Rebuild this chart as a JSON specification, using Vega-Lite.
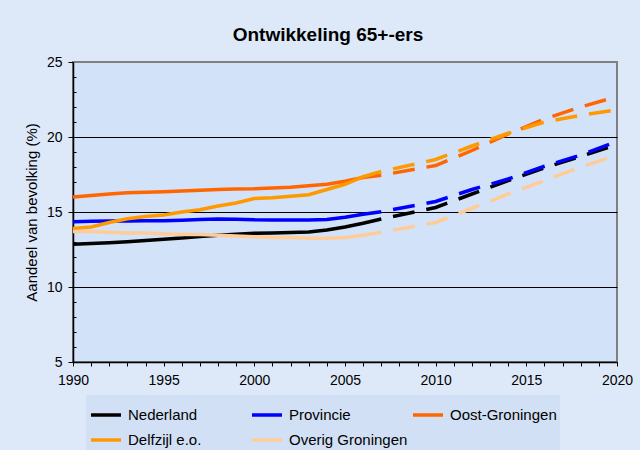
{
  "$schema": "https://vega.github.io/schema/vega-lite/v6.json",
  "width": 544,
  "height": 300,
  "autosize": {"type": "none"},
  "padding": {"left": 73, "top": 62, "right": 23, "bottom": 88},
  "background": "#dde9f8",
  "title": {
    "text": "Ontwikkeling 65+-ers",
    "font": "Liberation Sans",
    "fontSize": 19,
    "fontWeight": "bold",
    "color": "#000000",
    "anchor": "middle",
    "dx": -17,
    "offset": 10
  },
  "config": {
    "font": "Liberation Sans",
    "view": {"fill": "#d2e2f8", "stroke": "#808080", "strokeWidth": 2},
    "legend": {
      "orient": "none",
      "legendX": 13,
      "legendY": 333,
      "direction": "horizontal",
      "columns": 3,
      "gridAlign": "all",
      "symbolType": "stroke",
      "symbolSize": 900,
      "symbolStrokeWidth": 3.5,
      "labelFontSize": 15,
      "labelColor": "#000000",
      "labelOffset": 5,
      "columnPadding": -2,
      "rowPadding": -5,
      "padding": 3,
      "fillColor": "#d2e0f6"
    }
  },
  "data": {
    "values": [
      {"series": "Nederland", "phase": "obs", "year": 1990, "value": 12.85},
      {"series": "Nederland", "phase": "obs", "year": 1991, "value": 12.9},
      {"series": "Nederland", "phase": "obs", "year": 1992, "value": 12.95},
      {"series": "Nederland", "phase": "obs", "year": 1993, "value": 13.02},
      {"series": "Nederland", "phase": "obs", "year": 1994, "value": 13.1},
      {"series": "Nederland", "phase": "obs", "year": 1995, "value": 13.18},
      {"series": "Nederland", "phase": "obs", "year": 1996, "value": 13.27},
      {"series": "Nederland", "phase": "obs", "year": 1997, "value": 13.37},
      {"series": "Nederland", "phase": "obs", "year": 1998, "value": 13.45},
      {"series": "Nederland", "phase": "obs", "year": 1999, "value": 13.52},
      {"series": "Nederland", "phase": "obs", "year": 2000, "value": 13.58},
      {"series": "Nederland", "phase": "obs", "year": 2001, "value": 13.6},
      {"series": "Nederland", "phase": "obs", "year": 2002, "value": 13.63},
      {"series": "Nederland", "phase": "obs", "year": 2003, "value": 13.67},
      {"series": "Nederland", "phase": "obs", "year": 2004, "value": 13.8},
      {"series": "Nederland", "phase": "obs", "year": 2005, "value": 14.0},
      {"series": "Nederland", "phase": "obs", "year": 2006, "value": 14.25},
      {"series": "Nederland", "phase": "obs", "year": 2007, "value": 14.53},
      {"series": "Nederland", "phase": "proj", "year": 2007, "value": 14.53},
      {"series": "Nederland", "phase": "proj", "year": 2010, "value": 15.3},
      {"series": "Nederland", "phase": "proj", "year": 2012, "value": 16.2},
      {"series": "Nederland", "phase": "proj", "year": 2014, "value": 17.1},
      {"series": "Nederland", "phase": "proj", "year": 2016, "value": 17.95},
      {"series": "Nederland", "phase": "proj", "year": 2018, "value": 18.7},
      {"series": "Nederland", "phase": "proj", "year": 2020, "value": 19.5},

      {"series": "Provincie", "phase": "obs", "year": 1990, "value": 14.35},
      {"series": "Provincie", "phase": "obs", "year": 1991, "value": 14.38},
      {"series": "Provincie", "phase": "obs", "year": 1992, "value": 14.4},
      {"series": "Provincie", "phase": "obs", "year": 1993, "value": 14.4},
      {"series": "Provincie", "phase": "obs", "year": 1994, "value": 14.42},
      {"series": "Provincie", "phase": "obs", "year": 1995, "value": 14.42},
      {"series": "Provincie", "phase": "obs", "year": 1996, "value": 14.45},
      {"series": "Provincie", "phase": "obs", "year": 1997, "value": 14.5},
      {"series": "Provincie", "phase": "obs", "year": 1998, "value": 14.53},
      {"series": "Provincie", "phase": "obs", "year": 1999, "value": 14.52},
      {"series": "Provincie", "phase": "obs", "year": 2000, "value": 14.48},
      {"series": "Provincie", "phase": "obs", "year": 2001, "value": 14.47},
      {"series": "Provincie", "phase": "obs", "year": 2002, "value": 14.47},
      {"series": "Provincie", "phase": "obs", "year": 2003, "value": 14.47},
      {"series": "Provincie", "phase": "obs", "year": 2004, "value": 14.5},
      {"series": "Provincie", "phase": "obs", "year": 2005, "value": 14.65},
      {"series": "Provincie", "phase": "obs", "year": 2006, "value": 14.85},
      {"series": "Provincie", "phase": "obs", "year": 2007, "value": 15.02},
      {"series": "Provincie", "phase": "proj", "year": 2007, "value": 15.02},
      {"series": "Provincie", "phase": "proj", "year": 2010, "value": 15.7},
      {"series": "Provincie", "phase": "proj", "year": 2012, "value": 16.5},
      {"series": "Provincie", "phase": "proj", "year": 2014, "value": 17.2},
      {"series": "Provincie", "phase": "proj", "year": 2016, "value": 18.05},
      {"series": "Provincie", "phase": "proj", "year": 2018, "value": 18.8},
      {"series": "Provincie", "phase": "proj", "year": 2020, "value": 19.7},

      {"series": "Oost-Groningen", "phase": "obs", "year": 1990, "value": 16.0},
      {"series": "Oost-Groningen", "phase": "obs", "year": 1991, "value": 16.1},
      {"series": "Oost-Groningen", "phase": "obs", "year": 1992, "value": 16.2},
      {"series": "Oost-Groningen", "phase": "obs", "year": 1993, "value": 16.28},
      {"series": "Oost-Groningen", "phase": "obs", "year": 1994, "value": 16.32},
      {"series": "Oost-Groningen", "phase": "obs", "year": 1995, "value": 16.35},
      {"series": "Oost-Groningen", "phase": "obs", "year": 1996, "value": 16.4},
      {"series": "Oost-Groningen", "phase": "obs", "year": 1997, "value": 16.45},
      {"series": "Oost-Groningen", "phase": "obs", "year": 1998, "value": 16.5},
      {"series": "Oost-Groningen", "phase": "obs", "year": 1999, "value": 16.53},
      {"series": "Oost-Groningen", "phase": "obs", "year": 2000, "value": 16.55},
      {"series": "Oost-Groningen", "phase": "obs", "year": 2001, "value": 16.6},
      {"series": "Oost-Groningen", "phase": "obs", "year": 2002, "value": 16.65},
      {"series": "Oost-Groningen", "phase": "obs", "year": 2003, "value": 16.75},
      {"series": "Oost-Groningen", "phase": "obs", "year": 2004, "value": 16.85},
      {"series": "Oost-Groningen", "phase": "obs", "year": 2005, "value": 17.05},
      {"series": "Oost-Groningen", "phase": "obs", "year": 2006, "value": 17.3},
      {"series": "Oost-Groningen", "phase": "obs", "year": 2007, "value": 17.45},
      {"series": "Oost-Groningen", "phase": "proj", "year": 2007, "value": 17.45},
      {"series": "Oost-Groningen", "phase": "proj", "year": 2010, "value": 18.1},
      {"series": "Oost-Groningen", "phase": "proj", "year": 2012, "value": 19.1},
      {"series": "Oost-Groningen", "phase": "proj", "year": 2014, "value": 20.2},
      {"series": "Oost-Groningen", "phase": "proj", "year": 2016, "value": 21.2},
      {"series": "Oost-Groningen", "phase": "proj", "year": 2018, "value": 22.0},
      {"series": "Oost-Groningen", "phase": "proj", "year": 2020, "value": 22.7},

      {"series": "Delfzijl e.o.", "phase": "obs", "year": 1990, "value": 13.9},
      {"series": "Delfzijl e.o.", "phase": "obs", "year": 1991, "value": 14.0},
      {"series": "Delfzijl e.o.", "phase": "obs", "year": 1992, "value": 14.3},
      {"series": "Delfzijl e.o.", "phase": "obs", "year": 1993, "value": 14.55},
      {"series": "Delfzijl e.o.", "phase": "obs", "year": 1994, "value": 14.7},
      {"series": "Delfzijl e.o.", "phase": "obs", "year": 1995, "value": 14.8},
      {"series": "Delfzijl e.o.", "phase": "obs", "year": 1996, "value": 15.0},
      {"series": "Delfzijl e.o.", "phase": "obs", "year": 1997, "value": 15.15},
      {"series": "Delfzijl e.o.", "phase": "obs", "year": 1998, "value": 15.4},
      {"series": "Delfzijl e.o.", "phase": "obs", "year": 1999, "value": 15.6},
      {"series": "Delfzijl e.o.", "phase": "obs", "year": 2000, "value": 15.9},
      {"series": "Delfzijl e.o.", "phase": "obs", "year": 2001, "value": 15.95},
      {"series": "Delfzijl e.o.", "phase": "obs", "year": 2002, "value": 16.05},
      {"series": "Delfzijl e.o.", "phase": "obs", "year": 2003, "value": 16.15},
      {"series": "Delfzijl e.o.", "phase": "obs", "year": 2004, "value": 16.5},
      {"series": "Delfzijl e.o.", "phase": "obs", "year": 2005, "value": 16.85},
      {"series": "Delfzijl e.o.", "phase": "obs", "year": 2006, "value": 17.35},
      {"series": "Delfzijl e.o.", "phase": "obs", "year": 2007, "value": 17.7},
      {"series": "Delfzijl e.o.", "phase": "proj", "year": 2007, "value": 17.7},
      {"series": "Delfzijl e.o.", "phase": "proj", "year": 2010, "value": 18.5},
      {"series": "Delfzijl e.o.", "phase": "proj", "year": 2012, "value": 19.4},
      {"series": "Delfzijl e.o.", "phase": "proj", "year": 2014, "value": 20.25},
      {"series": "Delfzijl e.o.", "phase": "proj", "year": 2016, "value": 21.0},
      {"series": "Delfzijl e.o.", "phase": "proj", "year": 2018, "value": 21.45},
      {"series": "Delfzijl e.o.", "phase": "proj", "year": 2020, "value": 21.82},

      {"series": "Overig Groningen", "phase": "obs", "year": 1990, "value": 13.7},
      {"series": "Overig Groningen", "phase": "obs", "year": 1991, "value": 13.7},
      {"series": "Overig Groningen", "phase": "obs", "year": 1992, "value": 13.65},
      {"series": "Overig Groningen", "phase": "obs", "year": 1993, "value": 13.6},
      {"series": "Overig Groningen", "phase": "obs", "year": 1994, "value": 13.6},
      {"series": "Overig Groningen", "phase": "obs", "year": 1995, "value": 13.55},
      {"series": "Overig Groningen", "phase": "obs", "year": 1996, "value": 13.5},
      {"series": "Overig Groningen", "phase": "obs", "year": 1997, "value": 13.5},
      {"series": "Overig Groningen", "phase": "obs", "year": 1998, "value": 13.45},
      {"series": "Overig Groningen", "phase": "obs", "year": 1999, "value": 13.4},
      {"series": "Overig Groningen", "phase": "obs", "year": 2000, "value": 13.35},
      {"series": "Overig Groningen", "phase": "obs", "year": 2001, "value": 13.3},
      {"series": "Overig Groningen", "phase": "obs", "year": 2002, "value": 13.3},
      {"series": "Overig Groningen", "phase": "obs", "year": 2003, "value": 13.25},
      {"series": "Overig Groningen", "phase": "obs", "year": 2004, "value": 13.25},
      {"series": "Overig Groningen", "phase": "obs", "year": 2005, "value": 13.3},
      {"series": "Overig Groningen", "phase": "obs", "year": 2006, "value": 13.45},
      {"series": "Overig Groningen", "phase": "obs", "year": 2007, "value": 13.65},
      {"series": "Overig Groningen", "phase": "proj", "year": 2007, "value": 13.65},
      {"series": "Overig Groningen", "phase": "proj", "year": 2010, "value": 14.3},
      {"series": "Overig Groningen", "phase": "proj", "year": 2012, "value": 15.25},
      {"series": "Overig Groningen", "phase": "proj", "year": 2014, "value": 16.2},
      {"series": "Overig Groningen", "phase": "proj", "year": 2016, "value": 17.1},
      {"series": "Overig Groningen", "phase": "proj", "year": 2018, "value": 18.0},
      {"series": "Overig Groningen", "phase": "proj", "year": 2020, "value": 18.8}
    ]
  },
  "encoding": {
    "x": {
      "field": "year",
      "type": "quantitative",
      "scale": {"domain": [1990, 2020], "nice": false, "zero": false},
      "axis": {
        "title": null,
        "values": [1990,1991,1992,1993,1994,1995,1996,1997,1998,1999,2000,2001,2002,2003,2004,2005,2006,2007,2008,2009,2010,2011,2012,2013,2014,2015,2016,2017,2018,2019,2020],
        "labelExpr": "datum.value % 5 === 0 ? datum.value : ''",
        "labelFlush": false,
        "labelOverlap": false,
        "labelFontSize": 14,
        "labelColor": "#000000",
        "labelPadding": 7,
        "tickSize": 4,
        "tickColor": "#000000",
        "domainColor": "#000000",
        "domainWidth": 1.5,
        "grid": false
      }
    },
    "y": {
      "field": "value",
      "type": "quantitative",
      "scale": {"domain": [5, 25], "nice": false, "zero": false},
      "axis": {
        "title": "Aandeel van bevolking (%)",
        "titleFontSize": 15,
        "titleFontWeight": "normal",
        "titleColor": "#000000",
        "titlePadding": 7,
        "values": [5,6,7,8,9,10,11,12,13,14,15,16,17,18,19,20,21,22,23,24,25],
        "labelExpr": "datum.value % 5 === 0 ? datum.value : ''",
        "labelOverlap": false,
        "labelFontSize": 14,
        "labelColor": "#000000",
        "labelPadding": 6,
        "tickColor": "#000000",
        "tickSize": {"condition": {"test": "datum.value % 5 === 0", "value": 5}, "value": -3},
        "domainColor": "#000000",
        "domainWidth": 1.5,
        "grid": true,
        "gridColor": "#000000",
        "gridWidth": 1,
        "gridOpacity": {"condition": {"test": "datum.value % 5 === 0 && datum.value > 5 && datum.value < 25", "value": 1}, "value": 0}
      }
    },
    "color": {
      "field": "series",
      "type": "nominal",
      "scale": {
        "domain": ["Nederland", "Provincie", "Oost-Groningen", "Delfzijl e.o.", "Overig Groningen"],
        "range": ["#000000", "#0000ff", "#ff6600", "#ff9900", "#ffcc99"]
      },
      "legend": {"title": null}
    }
  },
  "layer": [
    {
      "transform": [{"filter": "datum.phase === 'obs'"}],
      "mark": {"type": "line", "strokeWidth": 3.5}
    },
    {
      "transform": [{"filter": "datum.phase === 'proj'"}],
      "mark": {"type": "line", "strokeWidth": 3.5, "strokeDash": [22, 12], "strokeDashOffset": 22}
    }
  ]
}
